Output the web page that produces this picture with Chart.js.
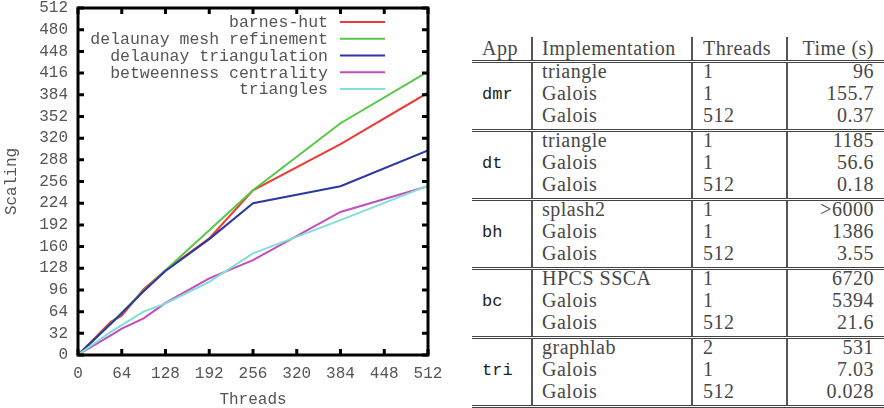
<!DOCTYPE html>
<html><head><meta charset="utf-8">
<script src="https://cdn.jsdelivr.net/npm/chart.js@4/dist/chart.umd.min.js"></script>
<style>
html,body{margin:0;padding:0;background:#fff;width:884px;height:408px;overflow:hidden}
#wrap{position:absolute;left:0;top:0;width:450px;height:408px}
#tbl{position:absolute;left:472px;top:37px}
table{border-collapse:collapse;table-layout:fixed;width:412px;font-family:'Liberation Serif',serif;font-size:20px;color:#484848;letter-spacing:0.5px}
th,td{font-weight:normal;height:22px;line-height:16px;padding:0;white-space:nowrap;vertical-align:top}
th{text-align:left;border-bottom:3px double #444;line-height:23px}
.c1{padding-left:10px;text-align:left}
.c2{border-left:2px solid #555;padding-left:9px}
.c3{border-left:2px solid #555;padding-left:10px}
.c4{border-left:2px solid #555;padding-right:10px;text-align:right}
th.c4{text-align:right}
td.app{font-family:'Liberation Mono',monospace;font-size:17px;color:#222;vertical-align:middle;letter-spacing:0;line-height:17px;padding-bottom:4px}
tr.last td{border-bottom:3px double #444}
</style>
</head><body>
<div id="wrap"><canvas id="c" width="450" height="408"></canvas></div>
<div id="tbl"></div>
<script>
// ---- chart data ----
const threads = [1, 48, 64, 96, 128, 192, 256, 384, 512];
const seriesNames = ['barnes-hut', 'delaunay mesh refinement', 'delaunay triangulation', 'betweenness centrality', 'triangles'];
const barnesHut = [1, 49, 58, 97, 125, 172, 243, 311, 387];
const meshRefinement = [1, 46, 62, 95, 125, 184, 243, 342, 418];
const triangulation = [1, 46, 62, 94, 124, 171, 224, 249, 302];
const betweenness = [1, 29, 39, 54, 77, 113, 140, 211, 249];
const triangles = [1, 34, 44, 64, 76, 108, 150, 199, 250];
const seriesColors = ['#ee3b36', '#55c845', '#2b38a2', '#c24cc0', '#80e0d6'];
const xTickValues = [0, 64, 128, 192, 256, 320, 384, 448, 512];
const yTickValues = [0, 32, 64, 96, 128, 160, 192, 224, 256, 288, 320, 352, 384, 416, 448, 480, 512];

// ---- table data ----
const apps = ['dmr', 'dt', 'bh', 'bc', 'tri'];
const impls = [['triangle', 'Galois', 'Galois'], ['triangle', 'Galois', 'Galois'], ['splash2', 'Galois', 'Galois'], ['HPCS SSCA', 'Galois', 'Galois'], ['graphlab', 'Galois', 'Galois']];
const tableThreads = [['1', '1', '512'], ['1', '1', '512'], ['1', '1', '512'], ['1', '1', '512'], ['2', '1', '512']];
const times = [['96', '155.7', '0.37'], ['1185', '56.6', '0.18'], ['>6000', '1386', '3.55'], ['6720', '5394', '21.6'], ['531', '7.03', '0.028']];
const headers = ['App', 'Implementation', 'Threads', 'Time (s)'];

// build table
(function () {
  const esc = s => s.replace(/&/g, '&amp;').replace(/</g, '&lt;').replace(/>/g, '&gt;');
  let h = '<table><colgroup><col style="width:60px"><col style="width:160px"><col style="width:95px"><col style="width:97px"></colgroup>';
  h += '<tr>' + headers.map((t, i) => '<th class="c' + (i + 1) + '">' + esc(t) + '</th>').join('') + '</tr>';
  apps.forEach((a, g) => {
    for (let r = 0; r < 3; r++) {
      h += '<tr' + (r === 2 ? ' class="last"' : '') + '>';
      if (r === 0) h += '<td class="c1 app" rowspan="3" style="border-bottom:3px double #444">' + esc(a) + '</td>';
      h += '<td class="c2">' + esc(impls[g][r]) + '</td><td class="c3">' + esc(tableThreads[g][r]) + '</td><td class="c4">' + esc(times[g][r]) + '</td></tr>';
    }
  });
  h += '</table>';
  document.getElementById('tbl').innerHTML = h;
})();

const allSeries = [barnesHut, meshRefinement, triangulation, betweenness, triangles];
const FONT = "'Liberation Mono', monospace";
const GRAY = '#555';

const framePlugin = {
  id: 'frame',
  afterDraw(chart) {
    const ctx = chart.ctx, a = chart.chartArea, xs = chart.scales.x, ys = chart.scales.y;
    ctx.save();
    ctx.strokeStyle = '#000';
    ctx.lineWidth = 3;
    ctx.strokeRect(a.left, a.top, a.right - a.left, a.bottom - a.top);
    const L = 6;
    ctx.beginPath();
    xTickValues.forEach(v => {
      const px = xs.getPixelForValue(v);
      ctx.moveTo(px, a.bottom); ctx.lineTo(px, a.bottom - L);
      ctx.moveTo(px, a.top); ctx.lineTo(px, a.top + L);
    });
    yTickValues.forEach(v => {
      const py = ys.getPixelForValue(v);
      ctx.moveTo(a.left, py); ctx.lineTo(a.left + L, py);
      ctx.moveTo(a.right, py); ctx.lineTo(a.right - L, py);
    });
    ctx.stroke();
    // legend
    ctx.font = '16.5px ' + FONT;
    ctx.textAlign = 'right';
    ctx.textBaseline = 'middle';
    const y0 = a.top + 14, dy = 16.75;
    chart.data.datasets.forEach((ds, i) => {
      const y = y0 + i * dy;
      ctx.fillStyle = GRAY;
      ctx.fillText(ds.label, a.left + 250, y + 1);
      ctx.strokeStyle = ds.borderColor;
      ctx.lineWidth = 2;
      ctx.beginPath();
      ctx.moveTo(a.left + 262, y); ctx.lineTo(a.left + 307, y);
      ctx.stroke();
    });
    ctx.restore();
  }
};

new Chart(document.getElementById('c'), {
  type: 'line',
  data: {
    datasets: allSeries.map((s, i) => ({
      label: seriesNames[i],
      data: s.map((v, k) => ({ x: threads[k], y: v })),
      borderColor: seriesColors[i],
      backgroundColor: seriesColors[i],
      borderWidth: 2,
      pointRadius: 0,
      tension: 0,
      fill: false,
      order: allSeries.length - i
    }))
  },
  options: {
    responsive: false,
    animation: false,
    devicePixelRatio: 1,
    layout: { padding: { left: 0, right: 22, top: 8, bottom: 0 } },
    plugins: { legend: { display: false }, tooltip: { enabled: false } },
    scales: {
      x: {
        type: 'linear', min: 0, max: 512,
        afterBuildTicks: s => { s.ticks = xTickValues.map(v => ({ value: v })); },
        afterFit: s => { s.height = 53; s.paddingLeft = 0; s.paddingRight = 0; },
        grid: { display: false, drawTicks: false }, border: { display: false },
        ticks: { font: { family: FONT, size: 16, lineHeight: 1 }, color: GRAY, padding: 11, maxRotation: 0 },
        title: { display: true, text: 'Threads', font: { family: FONT, size: 16, lineHeight: 1 }, color: GRAY, padding: { top: 0, bottom: 0 } }
      },
      y: {
        type: 'linear', min: 0, max: 512,
        afterBuildTicks: s => { s.ticks = yTickValues.map(v => ({ value: v })); },
        afterFit: s => { s.width = 78; s.paddingTop = 0; s.paddingBottom = 0; },
        grid: { display: false, drawTicks: false }, border: { display: false },
        ticks: { font: { family: FONT, size: 16, lineHeight: 1 }, color: GRAY, padding: 10 },
        title: { display: true, text: 'Scaling', font: { family: FONT, size: 16, lineHeight: 1 }, color: GRAY, padding: { top: 4, bottom: 0 } }
      }
    }
  },
  plugins: [framePlugin]
});
</script>
</body></html>
